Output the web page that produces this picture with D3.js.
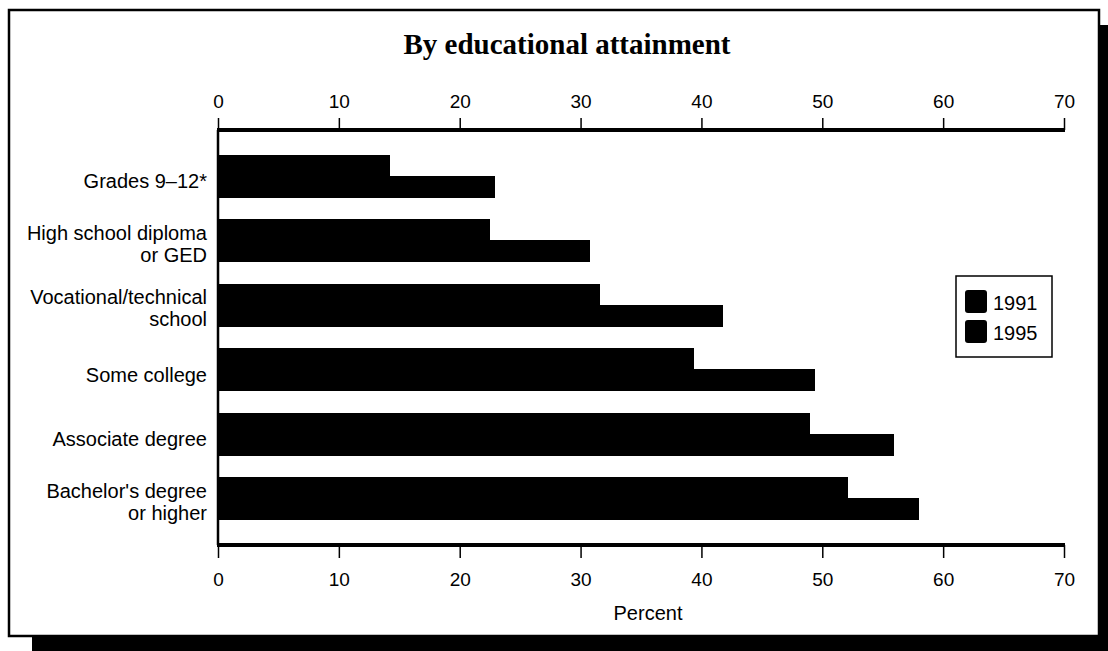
<!DOCTYPE html>
<html><head><meta charset="utf-8">
<script src="https://cdn.jsdelivr.net/npm/d3@7"></script>
<style>body{margin:0;background:#fff;}svg{display:block;}</style>
</head><body>
<svg id="chart" width="1108" height="651"></svg>
<script>
const categories = [
  ["Grades 9\u201312*"],
  ["High school diploma", "or GED"],
  ["Vocational/technical", "school"],
  ["Some college"],
  ["Associate degree"],
  ["Bachelor's degree", "or higher"]
];
const seriesNames = ["1991", "1995"];
const values1991 = [14.2, 22.5, 31.6, 39.4, 49.0, 52.1];
const values1995 = [22.9, 30.8, 41.8, 49.4, 55.9, 58.0];
const tickValues = [0, 10, 20, 30, 40, 50, 60, 70];
const titleText = "By educational attainment";
const xLabel = "Percent";

const svg = d3.select("#chart");
const sans = "'Liberation Sans', Arial, Helvetica, sans-serif";

// shadow + frame
svg.append("rect").attr("x", 32).attr("y", 25).attr("width", 1108 - 32).attr("height", 651 - 25).attr("fill", "#000");
svg.append("rect").attr("x", 9).attr("y", 10).attr("width", 1090).attr("height", 626)
  .attr("fill", "#fff").attr("stroke", "#000").attr("stroke-width", 2.5);

// title
svg.append("text").attr("x", 567).attr("y", 54).attr("text-anchor", "middle")
  .attr("font-family", "'Liberation Serif', 'Times New Roman', serif").attr("font-weight", "bold")
  .attr("font-size", 29).text(titleText);

const x = d3.scaleLinear().domain([0, 70]).range([218, 1064]);
const ids = categories.map((c, i) => i);
const y = d3.scaleBand().domain(ids).range([132, 543]).paddingInner(0.333).paddingOuter(0.357);
const ys = d3.scaleBand().domain(seriesNames).range([0, y.bandwidth()]).padding(0);

const data = ids.map(i => ({i, vals: [{s: "1991", v: values1991[i]}, {s: "1995", v: values1995[i]}]}));

// bars
const g = svg.append("g").attr("shape-rendering", "crispEdges");
g.selectAll("g.grp").data(data).join("g").attr("class", "grp")
  .attr("transform", d => `translate(0,${Math.round(y(d.i))})`)
  .selectAll("rect").data(d => d.vals).join("rect")
  .attr("x", x(0)).attr("y", d => Math.round(ys(d.s))).attr("width", d => x(d.v) - x(0))
  .attr("height", d => Math.round(ys(d.s) + ys.bandwidth()) - Math.round(ys(d.s)) + (d.s === "1991" ? 1 : 0))
  .attr("fill", "#000");

// top axis
const topAxis = svg.append("g").attr("transform", "translate(0,130)")
  .call(d3.axisTop(x).tickValues(tickValues).tickSize(12).tickPadding(10).tickFormat(d3.format("d")));
topAxis.select(".domain").remove();
topAxis.selectAll("line").attr("stroke", "#000").attr("stroke-width", 1.5);
topAxis.selectAll("text").attr("font-family", sans).attr("font-size", 19).attr("fill", "#000");
svg.append("line").attr("x1", x(0) - 1).attr("x2", x(70) + 1).attr("y1", 130).attr("y2", 130)
  .attr("stroke", "#000").attr("stroke-width", 4);

// bottom axis
const botAxis = svg.append("g").attr("transform", "translate(0,545)")
  .call(d3.axisBottom(x).tickValues(tickValues).tickSize(13).tickPadding(15).tickFormat(d3.format("d")));
botAxis.select(".domain").remove();
botAxis.selectAll("line").attr("stroke", "#000").attr("stroke-width", 1.5);
botAxis.selectAll("text").attr("font-family", sans).attr("font-size", 19).attr("fill", "#000");
svg.append("line").attr("x1", x(0) - 1).attr("x2", x(70) + 1).attr("y1", 545).attr("y2", 545)
  .attr("stroke", "#000").attr("stroke-width", 4);

// left axis line
svg.append("line").attr("x1", x(0)).attr("x2", x(0)).attr("y1", 130).attr("y2", 545)
  .attr("stroke", "#000").attr("stroke-width", 2.5);

// category labels
const lab = svg.append("g").attr("font-family", sans).attr("font-size", 20).attr("text-anchor", "end");
categories.forEach((lines, i) => {
  const cy = y(i) + y.bandwidth() / 2;
  const t = lab.append("text").attr("x", 207);
  if (lines.length === 1) {
    t.attr("y", cy + 12).text(lines[0]);
  } else {
    t.append("tspan").attr("x", 207).attr("y", cy - 1).text(lines[0]);
    t.append("tspan").attr("x", 207).attr("y", cy + 21).text(lines[1]);
  }
});

// x label
svg.append("text").attr("x", 648).attr("y", 620).attr("text-anchor", "middle")
  .attr("font-family", sans).attr("font-size", 20).text(xLabel);

// legend
const leg = svg.append("g");
leg.append("rect").attr("x", 956).attr("y", 276).attr("width", 96).attr("height", 81)
  .attr("fill", "#fff").attr("stroke", "#000").attr("stroke-width", 1.5);
seriesNames.forEach((s, k) => {
  leg.append("rect").attr("x", 965).attr("y", 290 + k * 30).attr("width", 22).attr("height", 23)
    .attr("rx", 3).attr("fill", "#000");
  leg.append("text").attr("x", 993).attr("y", 310 + k * 30).attr("font-family", sans)
    .attr("font-size", 20).text(s);
});
</script>
</body></html>
